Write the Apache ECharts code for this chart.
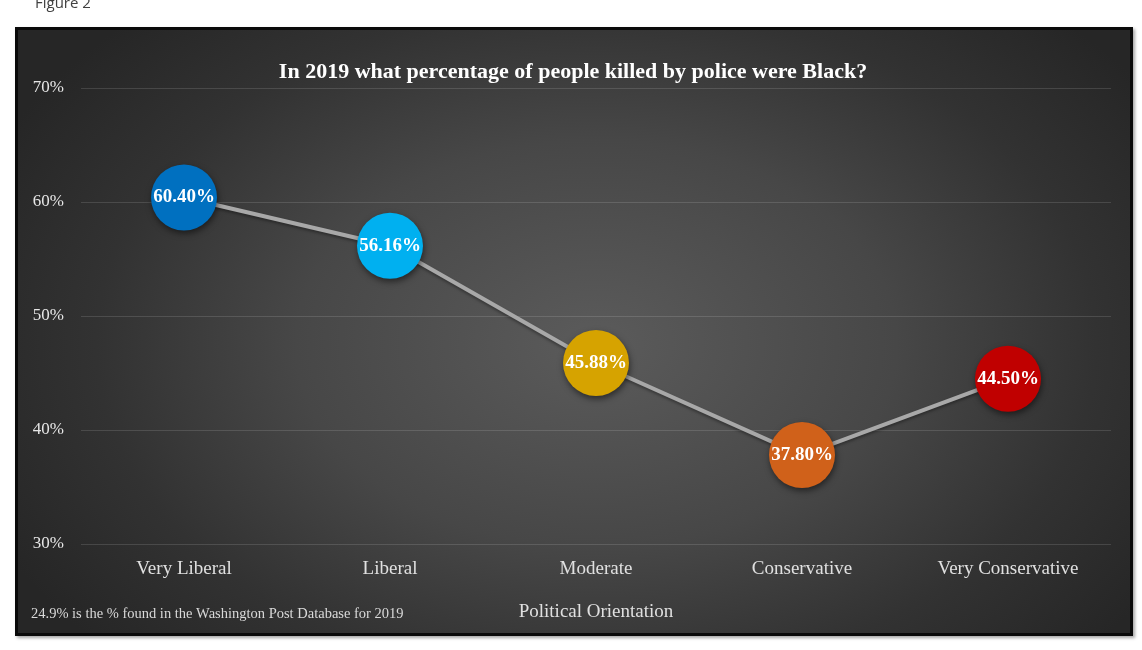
<!DOCTYPE html>
<html>
<head>
<meta charset="utf-8">
<script src="https://cdn.jsdelivr.net/npm/echarts@6/dist/echarts.min.js"></script>
<style>
  html, body { margin: 0; padding: 0; background: #ffffff; }
  #box {
    position: absolute; left: 15px; top: 27px; width: 1112px; height: 603px;
    border: 3px solid #0a0a0a;
    background: radial-gradient(ellipse 60% 75% at 52% 52%, #5b5b5b 0%, #474747 45%, #323232 75%, #262626 100%);
    box-shadow: 2px 2px 3px rgba(0,0,0,0.35);
  }
  #chart { position: absolute; left: 0; top: 0; width: 1142px; height: 650px; }
</style>
</head>
<body>
<div id="box"></div>
<div id="chart"></div>
<script>
const categories = ["Very Liberal", "Liberal", "Moderate", "Conservative", "Very Conservative"];
const values = [60.40, 56.16, 45.88, 37.80, 44.50];
const pointColors = ["#0070C0", "#00B0F0", "#D6A300", "#D0611A", "#C00000"];
const yTicks = { min: 30, max: 70, interval: 10 };

const serif = "'Liberation Serif', 'DejaVu Serif', serif";
const chart = echarts.init(document.getElementById('chart'), null, { renderer: 'canvas' });
chart.setOption({
  backgroundColor: 'transparent',
  animation: false,
  title: [
    {
      text: 'In 2019 what percentage of people killed by police were Black?',
      left: 568, top: 56, textAlign: 'center',
      textStyle: { color: '#ffffff', fontFamily: serif, fontWeight: 'bold', fontSize: 22 }
    },
    {
      text: 'Figure 2',
      left: 30, top: -9,
      textStyle: { color: '#404040', fontFamily: "'Open Sans', 'Noto Sans', sans-serif", fontWeight: 'normal', fontSize: 15 }
    },
    {
      text: '24.9% is the % found in the Washington Post Database for 2019',
      left: 26, top: 602,
      textStyle: { color: '#d9d9d9', fontFamily: serif, fontWeight: 'normal', fontSize: 14.5 }
    }
  ],
  grid: { left: 81, right: 31, top: 88, bottom: 106 },
  xAxis: {
    type: 'category',
    data: categories,
    boundaryGap: true,
    axisLine: { show: false },
    axisTick: { show: false },
    axisLabel: { color: '#e0e0e0', fontFamily: serif, fontSize: 19, margin: 16 },
    name: 'Political Orientation',
    nameLocation: 'middle',
    nameGap: 59,
    nameTextStyle: { color: '#e0e0e0', fontFamily: serif, fontSize: 19 }
  },
  yAxis: {
    type: 'value',
    min: yTicks.min, max: yTicks.max, interval: yTicks.interval,
    axisLine: { show: false },
    axisTick: { show: false },
    axisLabel: { formatter: '{value}%', color: '#e6e6e6', fontFamily: serif, fontSize: 17, margin: 17, padding: [3, 0, 0, 0] },
    splitLine: { lineStyle: { color: 'rgba(255,255,255,0.13)', width: 1 } }
  },
  series: [{
    type: 'line',
    data: values.map((v, i) => ({ value: v, itemStyle: { color: pointColors[i] } })),
    symbol: 'circle',
    symbolSize: 66,
    lineStyle: { color: '#a8a8a8', width: 4, shadowColor: 'rgba(0,0,0,0.35)', shadowBlur: 3, shadowOffsetY: 2 },
    itemStyle: { shadowColor: 'rgba(0,0,0,0.5)', shadowBlur: 6, shadowOffsetX: 1, shadowOffsetY: 3 },
    label: {
      show: true, position: 'inside',
      formatter: p => p.value.toFixed(2) + '%',
      color: '#ffffff', fontFamily: serif, fontWeight: 'bold', fontSize: 19
    },
    emphasis: { disabled: true }
  }]
});
</script>
</body>
</html>
